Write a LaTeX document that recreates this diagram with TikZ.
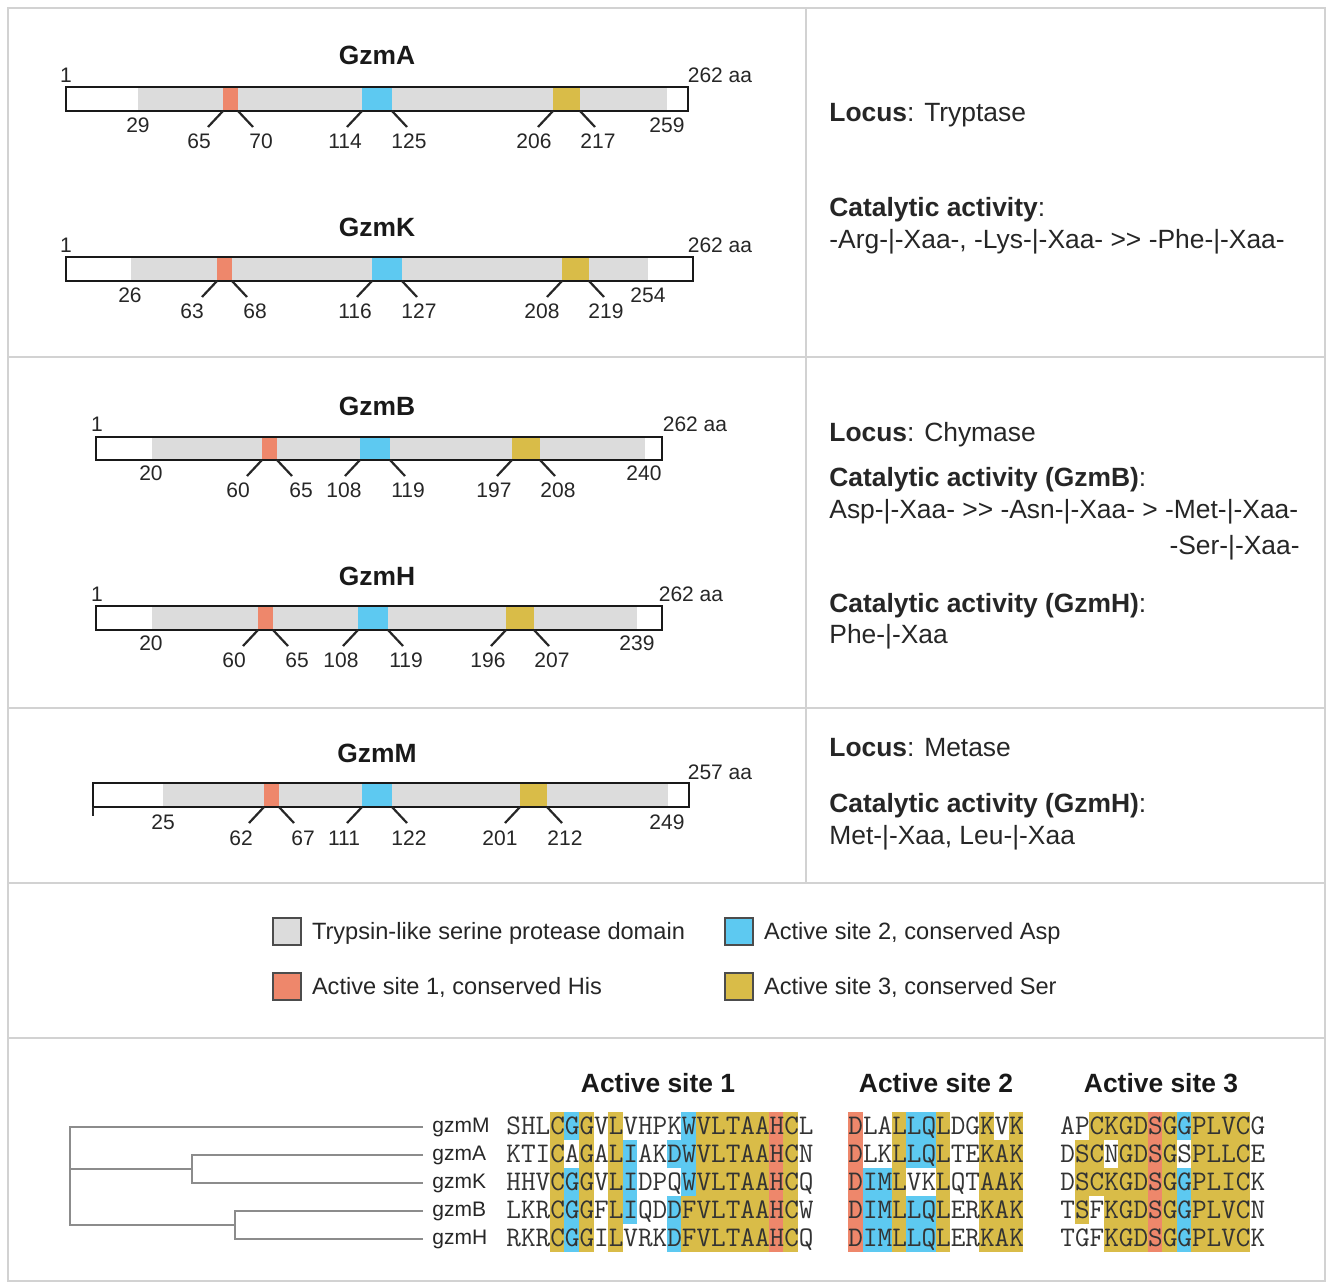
\documentclass[tikz,border=0pt]{standalone}
\usepackage{fontspec}
\setmainfont{Liberation Sans}
\usetikzlibrary{positioning}

\definecolor{framegray}{HTML}{D2D2D2}
\definecolor{domgray}{HTML}{DCDCDC}
\definecolor{hisred}{HTML}{EE876B}
\definecolor{aspblue}{HTML}{5DC9F1}
\definecolor{seryellow}{HTML}{D9BC48}
\definecolor{treegray}{HTML}{8C8C8C}

\newcommand{\gtgt}{>\kern0pt>}

\tikzset{
  panel/.style={draw=framegray,line width=1pt},
  barbox/.style={draw=black!90,line width=1.4pt},
  tickline/.style={draw=black!85,line width=1.1pt},
  domfill/.style={fill=domgray},
  hisfill/.style={fill=hisred},
  aspfill/.style={fill=aspblue},
  serfill/.style={fill=seryellow},
  gzmtitle/.style={font=\fontsize{13.2}{15}\selectfont\bfseries,inner sep=0pt,text=black!90},
  aanum/.style={font=\fontsize{10.5}{12}\selectfont,inner sep=0pt,text=black!85},
  infotext/.style={font=\fontsize{13.2}{15}\selectfont,inner sep=0pt,anchor=base west,text=black!85},
  keybox/.style={draw=black!70,line width=0.6pt,minimum width=14pt,minimum height=13.5pt,inner sep=0pt},
  keytext/.style={font=\fontsize{11.8}{14}\selectfont,inner sep=0pt,text height=8.5pt,text depth=0.5pt,text=black!85},
  seqtext/.style={font=\ttfamily\fontsize{14.2}{15}\selectfont,inner sep=0pt,anchor=base west,text=black!80},
  leafname/.style={font=\fontsize{10.5}{12}\selectfont,anchor=west,inner ysep=0pt,inner xsep=4.5pt,text height=7.5pt,text depth=2pt,text=black!85},
  treeline/.style={draw=treegray,line width=1pt}
}

\begin{document}
\begin{tikzpicture}[x=0.5pt,y=-0.5pt]
\useasboundingbox (0,0) rectangle (1331,1288);

% panels
\draw[panel] (8,8) rectangle (1325,1281);
\draw[panel] (8,357) -- (1325,357);
\draw[panel] (8,708) -- (1325,708);
\draw[panel] (8,883) -- (1325,883);
\draw[panel] (8,1038) -- (1325,1038);
\draw[panel] (806,8) -- (806,883);

% GzmA
\fill[domfill] (138,87) rectangle (667,111);
\fill[hisfill] (223,87) rectangle (238,111);
\fill[aspfill] (362,87) rectangle (392,111);
\fill[serfill] (553,87) rectangle (580,111);
\draw[barbox] (66,87) rectangle (688,111);
\foreach \xa/\xb in {223/238,362/392,553/580}
  {\draw[tickline] (\xa,111) -- ++(-15,16); \draw[tickline] (\xb,111) -- ++(15,16);}
\node[gzmtitle] (tA) at (377,55) {GzmA};
\node[aanum] (a1)   at (66,75)   {1};
\node[aanum] (aEnd) at (720,75)  {262 aa};
\node[aanum] (a29)  at (138,125) {29};
\node[aanum] (a259) at (667,125) {259};
\node[aanum] (a65)  at (199,141) {65};
\node[aanum] (a70)  at (261,141) {70};
\node[aanum] (a114) at (345,141) {114};
\node[aanum] (a125) at (409,141) {125};
\node[aanum] (a206) at (534,141) {206};
\node[aanum] (a217) at (598,141) {217};

% GzmK
\fill[domfill] (131,257) rectangle (648,281);
\fill[hisfill] (217,257) rectangle (232,281);
\fill[aspfill] (372,257) rectangle (402,281);
\fill[serfill] (562,257) rectangle (589,281);
\draw[barbox] (66,257) rectangle (693,281);
\foreach \xa/\xb in {217/232,372/402,562/589}
  {\draw[tickline] (\xa,281) -- ++(-15,16); \draw[tickline] (\xb,281) -- ++(15,16);}
\node[gzmtitle] (tK) at (377,227) {GzmK};
\node[aanum] (k1)   at (66,245)  {1};
\node[aanum] (kEnd) at (720,245) {262 aa};
\node[aanum] (k26)  at (130,295) {26};
\node[aanum] (k254) at (648,295) {254};
\node[aanum] (k63)  at (192,311) {63};
\node[aanum] (k68)  at (255,311) {68};
\node[aanum] (k116) at (355,311) {116};
\node[aanum] (k127) at (419,311) {127};
\node[aanum] (k208) at (542,311) {208};
\node[aanum] (k219) at (606,311) {219};

% GzmB
\fill[domfill] (152,437) rectangle (645,460);
\fill[hisfill] (262,437) rectangle (277,460);
\fill[aspfill] (360,437) rectangle (390,460);
\fill[serfill] (512,437) rectangle (540,460);
\draw[barbox] (96,437) rectangle (662,460);
\foreach \xa/\xb in {262/277,360/390,512/540}
  {\draw[tickline] (\xa,460) -- ++(-15,16); \draw[tickline] (\xb,460) -- ++(15,16);}
\node[gzmtitle] (tB) at (377,406) {GzmB};
\node[aanum] (b1)   at (97,424)  {1};
\node[aanum] (bEnd) at (695,424) {262 aa};
\node[aanum] (b20)  at (151,473) {20};
\node[aanum] (b240) at (644,473) {240};
\node[aanum] (b60)  at (238,490) {60};
\node[aanum] (b65)  at (301,490) {65};
\node[aanum] (b108) at (344,490) {108};
\node[aanum] (b119) at (408,490) {119};
\node[aanum] (b197) at (494,490) {197};
\node[aanum] (b208) at (558,490) {208};

% GzmH
\fill[domfill] (152,606) rectangle (637,630);
\fill[hisfill] (258,606) rectangle (273,630);
\fill[aspfill] (358,606) rectangle (388,630);
\fill[serfill] (506,606) rectangle (534,630);
\draw[barbox] (96,606) rectangle (662,630);
\foreach \xa/\xb in {258/273,358/388,506/534}
  {\draw[tickline] (\xa,630) -- ++(-15,16); \draw[tickline] (\xb,630) -- ++(15,16);}
\node[gzmtitle] (tH) at (377,576) {GzmH};
\node[aanum] (h1)   at (97,594)  {1};
\node[aanum] (hEnd) at (691,594) {262 aa};
\node[aanum] (h20)  at (151,643) {20};
\node[aanum] (h239) at (637,643) {239};
\node[aanum] (h60)  at (234,660) {60};
\node[aanum] (h65)  at (297,660) {65};
\node[aanum] (h108) at (341,660) {108};
\node[aanum] (h119) at (406,660) {119};
\node[aanum] (h196) at (488,660) {196};
\node[aanum] (h207) at (552,660) {207};

% GzmM
\fill[domfill] (163,783) rectangle (668,807);
\fill[hisfill] (264,783) rectangle (279,807);
\fill[aspfill] (362,783) rectangle (392,807);
\fill[serfill] (520,783) rectangle (547,807);
\draw[barbox] (93,783) rectangle (689,807);
\draw[black!85,line width=0.6pt] (93,807) -- (93,816);
\foreach \xa/\xb in {264/279,362/392,520/547}
  {\draw[tickline] (\xa,807) -- ++(-15,16); \draw[tickline] (\xb,807) -- ++(15,16);}
\node[gzmtitle] (tM) at (377,753) {GzmM};
\node[aanum] (mEnd) at (720,772) {257 aa};
\node[aanum] (m25)  at (163,822) {25};
\node[aanum] (m249) at (667,822) {249};
\node[aanum] (m62)  at (241,838) {62};
\node[aanum] (m67)  at (303,838) {67};
\node[aanum] (m111) at (344,838) {111};
\node[aanum] (m122) at (409,838) {122};
\node[aanum] (m201) at (500,838) {201};
\node[aanum] (m212) at (565,838) {212};

% loci and activities
\node[infotext] (locA) at (829,122) {\textbf{Locus}: Tryptase};
\node[infotext] (catA) at (829,217) {\textbf{Catalytic activity}:};
\node[infotext] (actA) at (829,249) {-Arg-|-Xaa-, -Lys-|-Xaa- \gtgt{} -Phe-|-Xaa-};
\node[infotext] (locB) at (829,442) {\textbf{Locus}: Chymase};
\node[infotext] (catB) at (829,486) {\textbf{Catalytic activity (GzmB)}:};
\node[infotext] (actB) at (829,518) {Asp-|-Xaa- \gtgt{} -Asn-|-Xaa- > -Met-|-Xaa-};
\node[infotext,anchor=base east] (actBb) at (1300,554) {-Ser-|-Xaa-};
\node[infotext] (catH) at (829,612) {\textbf{Catalytic activity (GzmH)}:};
\node[infotext] (actH) at (829,643) {Phe-|-Xaa};
\node[infotext] (locM) at (829,756) {\textbf{Locus}: Metase};
\node[infotext] (catM) at (829,812) {\textbf{Catalytic activity (GzmH)}:};
\node[infotext] (actM) at (829,844) {Met-|-Xaa, Leu-|-Xaa};

% legend
\node[keybox,fill=domgray]   (kDom) at (287,931.5) {};
\node[keytext,right=5pt of kDom] (lDom) {Trypsin-like serine protease domain};
\node[keybox,fill=aspblue]   (kAsp) at (739,931.5) {};
\node[keytext,right=5pt of kAsp] (lAsp) {Active site 2, conserved Asp};
\node[keybox,fill=hisred]    (kHis) at (287,986.5) {};
\node[keytext,right=5pt of kHis] (lHis) {Active site 1, conserved His};
\node[keybox,fill=seryellow] (kSer) at (739,986.5) {};
\node[keytext,right=5pt of kSer] (lSer) {Active site 3, conserved Ser};

% alignment
\node[gzmtitle] (hd1) at (658,1083)  {Active site 1};
\node[gzmtitle] (hd2) at (936,1083)  {Active site 2};
\node[gzmtitle] (hd3) at (1161,1083) {Active site 3};
\foreach \xo/\ca/\cb/\ra/\rb/\col in {
    506/4/4/1/5/seryellow, 506/5/5/1/1/aspblue, 506/5/5/3/5/aspblue,
    506/6/6/1/5/seryellow, 506/8/8/1/5/seryellow, 506/9/9/2/4/aspblue,
    506/12/12/2/2/aspblue, 506/12/12/4/5/aspblue, 506/13/13/1/3/aspblue,
    506/13/13/4/5/seryellow, 506/14/18/1/5/seryellow, 506/19/19/1/5/hisred,
    506/20/20/1/5/seryellow,
    848/1/1/1/5/hisred, 848/2/3/3/5/aspblue, 848/4/4/1/5/seryellow,
    848/5/6/1/2/aspblue, 848/5/6/4/5/aspblue, 848/7/7/1/5/seryellow,
    848/10/10/1/5/seryellow, 848/11/11/2/5/seryellow, 848/12/12/1/5/seryellow,
    1060/2/2/2/4/seryellow, 1060/3/3/1/3/seryellow, 1060/4/4/1/1/seryellow,
    1060/4/4/3/5/seryellow, 1060/5/6/1/5/seryellow, 1060/7/7/1/5/hisred,
    1060/8/8/1/5/seryellow, 1060/9/9/1/1/aspblue, 1060/9/9/3/5/aspblue,
    1060/10/13/1/5/seryellow}
  \fill[\col] ({\xo+(\ca-1)*14.6},{1112+(\ra-1)*28}) rectangle ({\xo+\cb*14.6},{1112+\rb*28});
\foreach \g/\y/\sa/\sb/\sc in {
    M/1134/SHLCGGVLVHPKWVLTAAHCL/DLALLQLDGKVK/APCKGDSGGPLVCG,
    A/1162/KTICAGALIAKDWVLTAAHCN/DLKLLQLTEKAK/DSCNGDSGSPLLCE,
    K/1190/HHVCGGVLIDPQWVLTAAHCQ/DIMLVKLQTAAK/DSCKGDSGGPLICK,
    B/1218/LKRCGGFLIQDDFVLTAAHCW/DIMLLQLERKAK/TSFKGDSGGPLVCN,
    H/1246/RKRCGGILVRKDFVLTAAHCQ/DIMLLQLERKAK/TGFKGDSGGPLVCK}
  {\node[seqtext] (s1\g) at (506,\y)  {\sa};
   \node[seqtext] (s2\g) at (848,\y)  {\sb};
   \node[seqtext] (s3\g) at (1060,\y) {\sc};}

% tree
\node[leafname] (lfM) at (423,1127)   {gzmM};
\node[leafname] (lfA) at (423,1155)   {gzmA};
\node[leafname] (lfK) at (423,1183)   {gzmK};
\node[leafname] (lfB) at (423,1211)   {gzmB};
\node[leafname] (lfH) at (423,1239)   {gzmH};
\coordinate (nAK)   at (192,1169);
\coordinate (nBH)   at (235,1225);
\coordinate (nRoot) at (70,1169);
\draw[treeline] (lfA.west) -| (nAK) |- (lfK.west);
\draw[treeline] (lfB.west) -| (nBH) |- (lfH.west);
\draw[treeline] (lfM.west) -| (nRoot) |- (nBH);
\draw[treeline] (nRoot) -- (nAK);
\end{tikzpicture}
\end{document}
